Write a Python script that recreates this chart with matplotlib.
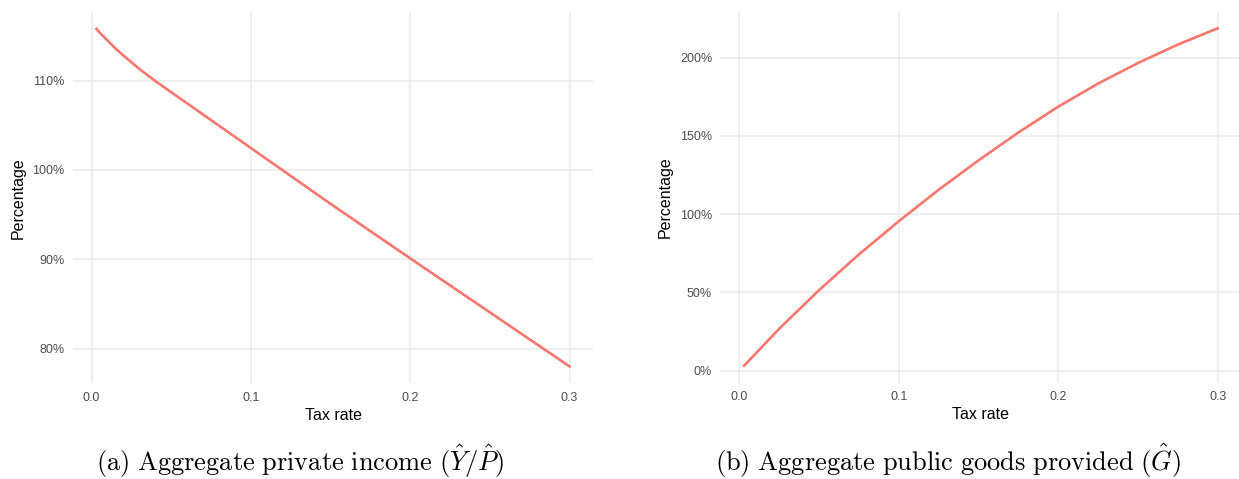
import numpy as np
import matplotlib
matplotlib.use("Agg")
import matplotlib.pyplot as plt
from matplotlib.ticker import FuncFormatter

plt.rcParams['font.family'] = ['Liberation Sans', 'DejaVu Sans']
plt.rcParams['mathtext.fontset'] = 'cm'

#%% data
tax_income = [0.003, 0.006, 0.01, 0.015, 0.02, 0.03, 0.04, 0.05, 0.06, 0.07, 0.08, 0.09,
              0.10, 0.12, 0.15, 0.20, 0.25, 0.30]
private_income = [115.8, 115.2, 114.5, 113.6, 112.8, 111.3, 109.95, 108.7, 107.45, 106.2, 104.95, 103.7,
                  102.45, 99.95, 96.2, 90.1, 84.05, 78.0]

tax_goods = [0.003, 0.025, 0.05, 0.075, 0.10, 0.125, 0.15, 0.175, 0.20, 0.225,
             0.25, 0.275, 0.30]
public_goods = [3.2, 26.8, 51.5, 74.3, 95.5, 115.6, 134.4, 152.2, 168.7, 183.5,
                196.6, 208.4, 218.8]

x_ticks = [0.0, 0.1, 0.2, 0.3]
y_ticks_a = [80, 90, 100, 110]
y_ticks_b = [0, 50, 100, 150, 200]

captions = [r'$\mathrm{(a)\ Aggregate\ private\ income\ (}\hat{Y}/\hat{P}\mathrm{)}$',
            r'$\mathrm{(b)\ Aggregate\ public\ goods\ provided\ (}\hat{G}\mathrm{)}$']

LINE_COL = '#F8766D'
GRID_COL = '#EBEBEB'
W, H = 1239, 479


def expand(v, frac=0.05):
    lo, hi = min(v), max(v)
    pad = (hi - lo) * frac
    return lo - pad, hi + pad


def ggplot_panel(ax, x, y, yticks):
    ax.plot(x, y, color=LINE_COL, lw=1.9, solid_joinstyle='round', zorder=3)
    ax.set_xlim(*expand(x))
    ax.set_ylim(*expand(y))
    ax.set_xticks(x_ticks)
    ax.set_yticks(yticks)
    ax.xaxis.set_major_formatter(FuncFormatter(lambda v, p: f'{v:.1f}'))
    ax.yaxis.set_major_formatter(FuncFormatter(lambda v, p: f'{v:.0f}%'))
    ax.grid(True, color=GRID_COL, lw=1.1, zorder=0)
    for s in ax.spines.values():
        s.set_visible(False)
    ax.tick_params(length=0, labelsize=9, labelcolor='#4D4D4D', pad=6)
    ax.set_xlabel('Tax rate', fontsize=11.5, color='black', labelpad=3)
    ax.set_ylabel('Percentage', fontsize=11.5, color='black', labelpad=5)


fig = plt.figure(figsize=(W / 100, H / 100), dpi=100)

# axes boxes in pixels: left, right, top, bottom
boxes = [(72.8, 593.2, 12.0, 383.3), (720.4, 1241.4, 11.4, 382.6)]
axes = []
for (l, r, t, b) in boxes:
    axes.append(fig.add_axes([l / W, 1 - b / H, (r - l) / W, (b - t) / H]))

ggplot_panel(axes[0], tax_income, private_income, y_ticks_a)
ggplot_panel(axes[1], tax_goods, public_goods, y_ticks_b)

fig.text(300 / W, 1 - 461 / H, captions[0], ha='center', va='center', fontsize=19)
fig.text(948 / W, 1 - 461 / H, captions[1], ha='center', va='center', fontsize=19)

fig.savefig('out.png', dpi=100)
